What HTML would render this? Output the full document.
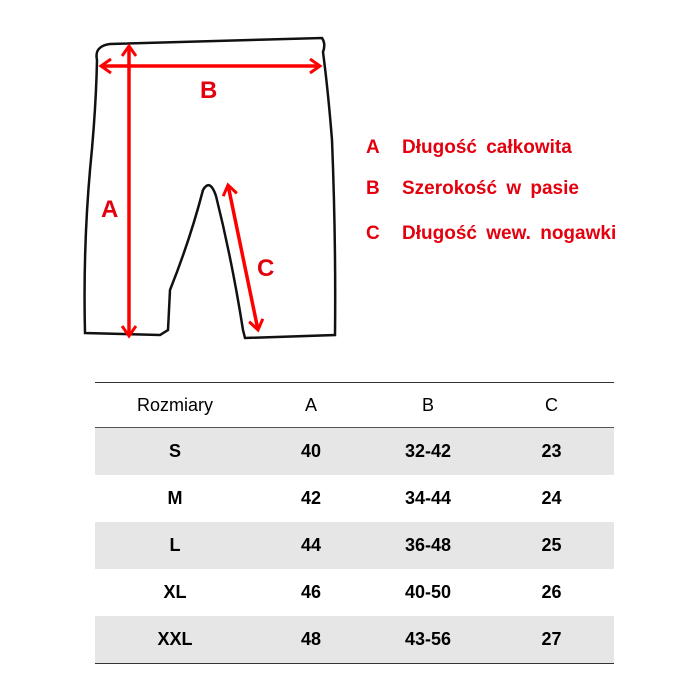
<!DOCTYPE html>
<html><head><style>
body{margin:0;width:700px;height:700px;background:#fff;font-family:"Liberation Sans",sans-serif;position:relative;overflow:hidden}
.leg{position:absolute;left:366px;color:#e3000f;font-weight:bold;font-size:19px;word-spacing:4px}
.leg span{display:inline-block;width:36px}
table{position:absolute;left:95px;top:382px;width:519px;border-collapse:collapse;font-size:18px;table-layout:fixed}
td{height:47px;text-align:center;padding:0;font-weight:bold}
tr.h td{font-weight:normal;height:44px;border-top:1.5px solid #333;border-bottom:1px solid #555}
tr.g td{background:#e6e6e6}
tr:last-child td{border-bottom:1.5px solid #333}
</style></head><body>
<svg width="700" height="370" style="position:absolute;left:0;top:0">
<defs><marker id="ar" markerWidth="14" markerHeight="16" refX="11" refY="8" orient="auto-start-reverse" markerUnits="userSpaceOnUse"><path d="M1,1 L11,8 L1,15" fill="none" stroke="#f00" stroke-width="3"/></marker></defs>
<path d="M97,60 Q94,46 110,44 L322,38 Q326,44 323,52 Q328,90 332,140 Q336,240 335,335 L245,338 L243,330 Q232,260 216,196 Q210,178 203,190 Q190,240 170,290 L168,330 L160,335 L85,333 Q83,250 90,170 Q96,110 97,60Z" fill="none" stroke="#111" stroke-width="2.5"/>
<g stroke="#f00" stroke-width="3.5" fill="none">
<line x1="129" y1="46" x2="129" y2="336" marker-start="url(#ar)" marker-end="url(#ar)"/>
<line x1="101" y1="66" x2="320" y2="66" marker-start="url(#ar)" marker-end="url(#ar)"/>
<line x1="228" y1="185" x2="258" y2="330" marker-start="url(#ar)" marker-end="url(#ar)"/>
</g>
<g fill="#e3000f" font-family="Liberation Sans" font-weight="bold" font-size="24">
<text x="200" y="98">B</text><text x="101" y="217">A</text><text x="257" y="276">C</text></g>
</svg>
<div class="leg" style="top:137px"><span>A</span>Długość całkowita</div>
<div class="leg" style="top:178px"><span>B</span>Szerokość w pasie</div>
<div class="leg" style="top:223px"><span>C</span>Długość wew. nogawki</div>
<table>
<colgroup><col style="width:160px"><col style="width:112px"><col style="width:122px"><col style="width:125px"></colgroup>
<tr class="h"><td>Rozmiary</td><td>A</td><td>B</td><td>C</td></tr>
<tr class="g"><td>S</td><td>40</td><td>32-42</td><td>23</td></tr>
<tr><td>M</td><td>42</td><td>34-44</td><td>24</td></tr>
<tr class="g"><td>L</td><td>44</td><td>36-48</td><td>25</td></tr>
<tr><td>XL</td><td>46</td><td>40-50</td><td>26</td></tr>
<tr class="g"><td>XXL</td><td>48</td><td>43-56</td><td>27</td></tr>
</table>
</body></html>
